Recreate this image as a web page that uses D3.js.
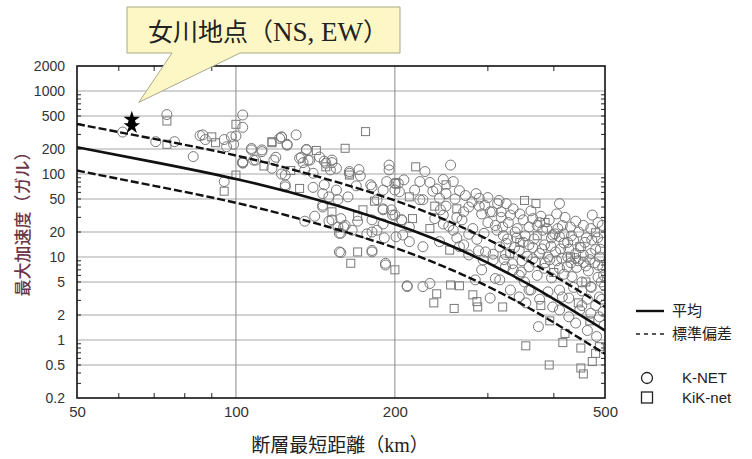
<!DOCTYPE html>
<meta charset="utf-8">
<style>
body { margin: 0; background: #fff; }
svg { font-family: 'Liberation Sans', Arial, sans-serif; }
.grid line { stroke: #c4c4c4; stroke-width: 1.6; }
.vgrid line { stroke: #8a8a8a; stroke-width: 1; }
.pt { fill: none; stroke: #787878; stroke-width: 1; }
</style>
<body>
<script src="https://d3js.org/d3.v7.min.js"></script>
<script>
// axes
var xTicks = [50, 100, 200, 500]
var xMinor = [60, 70, 80, 90, 300, 400]
var yTicks = [0.2, 0.5, 1, 2, 5, 10, 20, 50, 100, 200, 500, 1000, 2000]

// regression curves (distance km, gal)
var meanCurve = [[50, 210], [70, 139], [100, 87], [143, 48.6], [202, 24.3], [269, 11.8], [360, 4.6], [500, 1.3]]
var upperCurve = [[50, 400], [70, 265], [100, 167], [143, 93], [202, 47], [269, 22.6], [360, 8.8], [500, 2.5]]
var lowerCurve = [[50, 110], [70, 72], [100, 45], [143, 25], [202, 12.6], [269, 6.1], [360, 2.4], [500, 0.68]]

// Onagawa site (NS, EW)
var onagawa = [[63.5, 455], [63.5, 380]]

// K-NET records
var knet = [
  [61, 320], [74, 520], [70.5, 245], [76.5, 245], [85.5, 290], [87.5, 260], [95, 260], [98, 280], [96, 213], [83, 162],
  [95, 81], [103, 514], [103, 365], [86.5, 296], [122, 280], [130, 296],
  [100, 287], [99, 228], [122, 277], [125, 228], [107, 195], [112, 186], [119, 159], [103, 137], [108, 147], [117, 117],
  [122, 100], [136, 198], [137, 147], [133, 159], [147, 143], [152, 137], [155, 117], [164, 107], [171, 113], [172, 95],
  [195, 128], [195, 112], [124, 74], [140, 69], [147, 74], [155, 64], [163, 53], [169, 72], [181, 70], [190, 64],
  [200, 77], [146, 40], [141, 31], [150, 27], [158, 29], [161, 24], [157, 19.3], [166, 21], [177, 19], [185, 21],
  [190, 25], [197, 37], [190, 38], [185, 49], [158, 11.3], [181, 11.5], [192, 8.4], [134, 137], [135, 112],
  [255, 128], [228, 107], [208, 85], [223, 81], [233, 79], [247, 86], [258, 81], [265, 63], [218, 64], [236, 62],
  [204, 61], [226, 49], [243, 51], [250, 41], [280, 46], [289, 41], [313, 44], [303, 35], [268, 28], [200, 32],
  [206, 28], [247, 25], [258, 21], [281, 22], [295, 19.3], [310, 24], [201, 17.5], [213, 15.3], [226, 13.3], [243, 15.3],
  [265, 13.3], [276, 10.6], [297, 11.5], [307, 9.2], [324, 7.6], [211, 4.4], [226, 4.4], [233, 4.8], [303, 3.2], [284, 5.3],
  [310, 5.5], [292, 7],
  [325, 44], [410, 44], [473, 32], [490, 12.4], [331, 32], [350, 28], [365, 29], [415, 24], [430, 23], [320, 23],
  [338, 20], [381, 21], [398, 18.4], [410, 17.6], [440, 9.6], [468, 9.3], [485, 8], [325, 14.6], [344, 12.1], [359, 14],
  [376, 11], [393, 9.3], [424, 7.6], [433, 5.8], [452, 5], [470, 4.4], [488, 3.3], [452, 2.6], [374, 1.45], [322, 9.3],
  [335, 7], [316, 5.3], [331, 4], [344, 3.3], [359, 4], [354, 2.8], [398, 2.5], [410, 2.3], [427, 1.9], [415, 3.3],
  [448, 2.3], [470, 2.1], [488, 1.9], [482, 1.1], [463, 1.3], [440, 1.6],
  [211, 4.5], [164, 102], [180, 74], [193, 81], [203, 77], [200, 64], [223, 49], [190, 37], [198, 32], [206, 28],
  [213, 23], [207, 18.4], [181, 28], [170, 27], [160, 23], [152, 28], [158, 19.3], [181, 20], [191, 17], [181, 12], [192, 8],
  [103, 135], [107, 203], [112, 195], [109, 147], [121, 268], [125, 222], [136, 195], [118, 147], [124, 97], [124, 70],
  [135, 27], [103, 140], [132, 155], [138, 147], [144, 160], [148, 135], [152, 147], [151, 112], [140, 102], [146, 58],
  [150, 53], [146, 42], [156, 49], [156, 23], [157, 11.5],
  [318, 35], [328, 26], [341, 22], [353, 18], [359, 23], [367, 16.5], [376, 26], [384, 14], [396, 17], [407, 22],
  [418, 14.7], [427, 12.4], [436, 16], [450, 13], [461, 17], [480, 12.3], [488, 10], [495, 7.5], [485, 5.7], [465, 6.8],
  [455, 8.6], [442, 7.5], [431, 8.5], [418, 6.2], [410, 7.3], [396, 5.6], [384, 7.3], [372, 6], [359, 7.6], [347, 6.6],
  [334, 8.3], [324, 10.7], [337, 13], [356, 10.2], [369, 8.7], [390, 10], [403, 11.5], [414, 9.7], [436, 4.3], [452, 3.9],
  [471, 4.3], [493, 3.1], [480, 2.6], [463, 3.1], [427, 3.2], [410, 4.0], [390, 3.8], [376, 3.1], [362, 4], [352, 5], [344, 6],
  [289, 51], [296, 42], [306, 35], [300, 26], [312, 21], [321, 18.1], [327, 16.5], [316, 13.2], [307, 10.8], [286, 16.3],
  [276, 18.8], [270, 14], [288, 11.9], [294, 9.2], [262, 17], [253, 23.5], [247, 32], [238, 29], [270, 35],
  [495, 15], [497, 6], [499, 4.5], [496, 2.2], [498, 1.5], [492, 5], [494, 24],
  [335, 38], [345, 33], [362, 36], [378, 31], [392, 28], [405, 33], [420, 30], [440, 27], [455, 24], [470, 22],
  [485, 26], [372, 24], [388, 22], [402, 19], [418, 19], [432, 18], [446, 20], [458, 15], [472, 16], [484, 17],
  [340, 17], [350, 15], [365, 13], [380, 12.5], [395, 13.5], [412, 12.5], [425, 15], [440, 11], [455, 10.5], [470, 11],
  [478, 8.5], [460, 7.8], [445, 9], [425, 10], [405, 9], [385, 8.5], [365, 9.5], [348, 9],
  [260, 50], [272, 55], [285, 58], [300, 52], [315, 48], [250, 58], [240, 66], [276, 40], [292, 33], [318, 30],
  [262, 30], [244, 37]
]

// KiK-net records
var kiknet = [
  [74, 435], [74, 228], [90, 280], [91.5, 238], [95, 62], [100, 397], [176, 324], [117, 238], [161, 204], [113, 125],
  [142, 192], [148, 122], [164, 97], [132, 67], [152, 35], [170, 31], [174, 37], [183, 47], [170, 11.5], [165, 8.4],
  [200, 7], [127, 110], [117, 245], [100, 97],
  [219, 122], [201, 77], [250, 74], [213, 53], [238, 41], [262, 38], [216, 29], [233, 22], [254, 12.1], [240, 3.6],
  [237, 2.8], [255, 4.6], [265, 4.5], [281, 3.5], [286, 2.9], [259, 2.4], [287, 2.5], [320, 2.5],
  [352, 48], [370, 44], [480, 19.6], [385, 26], [448, 13.3], [468, 1.7], [450, 0.8], [473, 0.55], [450, 0.46], [455, 0.39],
  [392, 0.5], [354, 0.85], [416, 0.93], [393, 1.7], [378, 2.6], [420, 1.2], [488, 0.83], [480, 0.69],
  [345, 15], [400, 6.5], [430, 10], [460, 5], [330, 11], [372, 18], [445, 2.8]
]

var width = 752, height = 459
var plotLeft = 77, plotRight = 605, plotTop = 66, plotBottom = 398

var x = d3.scaleLog().domain([50, 500]).range([plotLeft, plotRight])
var y = d3.scaleLog().domain([0.2, 2000]).range([plotBottom, plotTop])

var svg = d3.select('body').append('svg')
    .attr('width', width)
    .attr('height', height)

svg.append('clipPath').attr('id', 'plot')
    .append('rect')
    .attr('x', plotLeft).attr('y', plotTop)
    .attr('width', plotRight - plotLeft).attr('height', plotBottom - plotTop)

// gridlines
svg.append('g').attr('class', 'grid')
    .selectAll('line')
    .data(yTicks.slice(1, -1))
    .enter().append('line')
    .attr('x1', plotLeft).attr('x2', plotRight)
    .attr('y1', d => y(d)).attr('y2', d => y(d))

svg.append('g').attr('class', 'vgrid')
    .selectAll('line')
    .data([100, 200])
    .enter().append('line')
    .attr('x1', d => x(d)).attr('x2', d => x(d))
    .attr('y1', plotTop).attr('y2', plotBottom)

// minor ticks
var yMinor = []
for (var e = -1; e <= 3; e++) {
    for (var m = 2; m <= 9; m++) {
        var v = m * Math.pow(10, e)
        if (v > 0.2 && v < 2000) yMinor.push(v)
    }
}
var ticks = svg.append('g').attr('stroke', '#222').attr('stroke-width', 1)
ticks.selectAll('.ym').data(yMinor).enter().append('line')
    .attr('x1', plotLeft).attr('x2', plotLeft + 4)
    .attr('y1', d => y(d)).attr('y2', d => y(d))
ticks.selectAll('.ymr').data(yMinor).enter().append('line')
    .attr('x1', plotRight).attr('x2', plotRight - 4)
    .attr('y1', d => y(d)).attr('y2', d => y(d))
ticks.selectAll('.xb').data(xMinor).enter().append('line')
    .attr('x1', d => x(d)).attr('x2', d => x(d))
    .attr('y1', plotBottom).attr('y2', plotBottom - 5)
ticks.selectAll('.xt').data(xMinor).enter().append('line')
    .attr('x1', d => x(d)).attr('x2', d => x(d))
    .attr('y1', plotTop).attr('y2', plotTop + 5)

// scatter
var pts = svg.append('g').attr('clip-path', 'url(#plot)')
pts.selectAll('circle')
    .data(knet)
    .enter().append('circle')
    .attr('class', 'pt')
    .attr('cx', d => x(d[0]))
    .attr('cy', d => y(d[1]))
    .attr('r', 5)

pts.selectAll('rect')
    .data(kiknet)
    .enter().append('rect')
    .attr('class', 'pt')
    .attr('x', d => x(d[0]) - 4)
    .attr('y', d => y(d[1]) - 4)
    .attr('width', 8)
    .attr('height', 8)

// curves
var line = d3.line()
    .x(d => x(d[0]))
    .y(d => y(d[1]))
    .curve(d3.curveNatural)

var curves = svg.append('g').attr('clip-path', 'url(#plot)').attr('fill', 'none').attr('stroke', '#111')
curves.append('path').attr('d', line(meanCurve)).attr('stroke-width', 2.6)
curves.append('path').attr('d', line(upperCurve)).attr('stroke-width', 2.4).attr('stroke-dasharray', '8,3')
curves.append('path').attr('d', line(lowerCurve)).attr('stroke-width', 2.4).attr('stroke-dasharray', '8,3')

// frame
svg.append('rect')
    .attr('x', plotLeft).attr('y', plotTop)
    .attr('width', plotRight - plotLeft).attr('height', plotBottom - plotTop)
    .attr('fill', 'none').attr('stroke', '#111').attr('stroke-width', 1.6)

// axes labels
var yAxis = d3.axisLeft(y).tickValues(yTicks).tickFormat(d => String(d)).tickSize(0).tickPadding(12)
var gy = svg.append('g').attr('transform', 'translate(' + plotLeft + ',0)').call(yAxis)
gy.select('.domain').remove()
gy.selectAll('text').attr('font-size', 14).attr('fill', '#333').attr('font-family', "'Liberation Sans', Arial, sans-serif")

var xAxis = d3.axisBottom(x).tickValues(xTicks).tickFormat(d => String(d)).tickSize(0).tickPadding(8)
var gx = svg.append('g').attr('transform', 'translate(0,' + plotBottom + ')').call(xAxis)
gx.select('.domain').remove()
gx.selectAll('text').attr('font-size', 15).attr('fill', '#333').attr('font-family', "'Liberation Sans', Arial, sans-serif")

// titles
svg.append('text')
    .attr('transform', 'translate(23,220) rotate(-90)')
    .attr('text-anchor', 'middle')
    .attr('dy', '0.35em')
    .attr('font-family', "'Noto Sans CJK JP', sans-serif")
    .attr('font-size', 17)
    .attr('font-weight', 500)
    .attr('fill', '#6b3545')
    .text('最大加速度（ガル）')

var xt = svg.append('text')
    .attr('x', 340).attr('y', 452)
    .attr('text-anchor', 'middle')
    .attr('font-family', "'Noto Sans CJK JP', sans-serif")
    .attr('font-size', 19)
    .attr('fill', '#222')
xt.append('tspan').text('断層最短距離（')
xt.append('tspan').attr('font-family', "'Liberation Serif', serif").attr('font-size', 20).text('km')
xt.append('tspan').text('）')

// Onagawa stars
svg.append('g').selectAll('path')
    .data(onagawa)
    .enter().append('path')
    .attr('transform', d => 'translate(' + x(d[0]) + ',' + y(d[1]) + ')')
    .attr('d', d3.symbol(d3.symbolStar).size(85))
    .attr('fill', '#000')

// callout
var tipX = x(onagawa[0][0]) + 7, tipY = y(onagawa[0][1]) - 17
svg.append('path')
    .attr('d', 'M127,7 H400 V53 H240 L' + tipX + ',' + tipY + ' L172,53 H127 Z')
    .attr('fill', '#fcf7c4')
    .attr('stroke', '#a9a98a')
    .attr('stroke-width', 1)

var ct = svg.append('text')
    .attr('x', 148).attr('y', 41)
    .attr('font-family', "'Noto Sans CJK JP', sans-serif")
    .attr('font-size', 25)
    .attr('fill', '#222')
ct.append('tspan').text('女川地点（')
ct.append('tspan').attr('font-family', "'Liberation Serif', serif").attr('font-size', 27).text('NS, EW')
ct.append('tspan').text('）')

// legend
var lg = svg.append('g').attr('font-family', "'Noto Sans CJK JP', sans-serif").attr('font-size', 15).attr('fill', '#222')
lg.append('line').attr('x1', 636).attr('x2', 664).attr('y1', 311).attr('y2', 311)
    .attr('stroke', '#111').attr('stroke-width', 2.4)
lg.append('text').attr('x', 672).attr('y', 316).text('平均')
lg.append('line').attr('x1', 636).attr('x2', 664).attr('y1', 334).attr('y2', 334)
    .attr('stroke', '#555').attr('stroke-width', 1.8).attr('stroke-dasharray', '4,4')
lg.append('text').attr('x', 672).attr('y', 339).text('標準偏差')
lg.append('circle').attr('cx', 647).attr('cy', 378).attr('r', 5.5)
    .attr('fill', 'none').attr('stroke', '#222').attr('stroke-width', 1.3)
lg.append('text').attr('x', 682).attr('y', 383).attr('font-family', "'Liberation Sans', Arial, sans-serif").text('K-NET')
lg.append('rect').attr('x', 641.5).attr('y', 392).attr('width', 11).attr('height', 11)
    .attr('fill', 'none').attr('stroke', '#222').attr('stroke-width', 1.3)
lg.append('text').attr('x', 682).attr('y', 403).attr('font-family', "'Liberation Sans', Arial, sans-serif").text('KiK-net')
</script>
